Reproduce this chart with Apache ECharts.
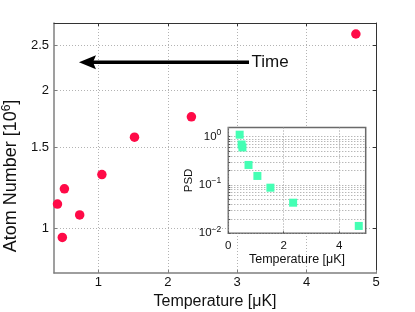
<!DOCTYPE html>
<html><head><meta charset="utf-8">
<script src="https://cdn.jsdelivr.net/npm/echarts@6/dist/echarts.min.js"></script>
<style>html,body{margin:0;padding:0;background:#fff}#c{width:415px;height:312px}</style>
</head><body><div id="c"></div>
<script>
// ---- data ----
const temperature = [0.41, 0.48, 0.51, 0.73, 1.05, 1.52, 2.34, 4.71];      // µK
const atomNumber  = [1.13, 0.956, 1.22, 1.07, 1.31, 1.58, 1.75, 2.65];     // 10^6
const psd         = [1.10, 0.69, 0.60, 0.26, 0.154, 0.088, 0.043, 0.0142];
const xTicks      = [1, 2, 3, 4, 5];
const yTicks      = [1, 1.5, 2, 2.5];
const yTickLabels = ['1', '1.5', '2', '2.5'];
const insetXTicks = [0, 2, 4];
const insetYExp   = [-2, -1, 0];
const arrowTail   = [3.17, 2.3];
const arrowTip    = [0.72, 2.3];
const arrowText   = 'Time';

const LN = Math.log, L10 = Math.log10;
const FONT = '"Liberation Sans", Arial, Helvetica, sans-serif';
const TXT = '#111';

// minor log grid values for the inset (1..9 per decade)
const insetGridVals = [];
for (let d = -2; d < 0; d++) for (let k = 1; k <= 9; k++) insetGridVals.push(L10(k) + d);
insetGridVals.push(0);

const chart = echarts.init(document.getElementById('c'), null, {renderer: 'canvas'});
const dotted = {color: '#b3b3b3', width: 1, type: [1, 2]};
const grayLine = {show: true, onZero: false, lineStyle: {color: '#7f7f7f', width: 1.5}};
const darkLine = {show: true, onZero: false, lineStyle: {color: '#333', width: 1}};

const option = {
  animation: false,
  backgroundColor: '#fff',
  textStyle: {fontFamily: FONT},
  grid: [
    {left: 54, top: 23, right: 39, bottom: 39, containLabel: false, outerBoundsMode: 'none'},
    {left: 228.3, top: 127.5, right: 49.3, bottom: 78.7, show: true, backgroundColor: '#fff',
     borderColor: '#6a6a6a', borderWidth: 1.5, z: 5, containLabel: false, outerBoundsMode: 'none'}
  ],
  xAxis: [
    {gridIndex: 0, type: 'value', min: 0.36, max: 5, position: 'bottom',
     axisLine: grayLine,
     axisTick: {inside: true, length: 3, customValues: xTicks, lineStyle: {color: '#7f7f7f'}},
     axisLabel: {customValues: xTicks, fontSize: 13, color: TXT, margin: 3, fontFamily: FONT},
     splitLine: {show: true, lineStyle: dotted},
     name: 'Temperature [μK]', nameLocation: 'middle', nameGap: 18,
     nameTextStyle: {fontSize: 16, color: TXT, fontFamily: FONT}},
    {gridIndex: 0, type: 'value', min: 0.36, max: 5, position: 'top',
     axisLine: darkLine,
     axisTick: {inside: true, length: 3, customValues: xTicks, lineStyle: {color: '#333'}},
     axisLabel: {show: false}, splitLine: {show: false}},
    {gridIndex: 1, type: 'value', min: 0, max: 4.96, position: 'bottom', z: 6,
     axisLine: {show: false, onZero: false},
     axisTick: {inside: true, length: 2, customValues: insetXTicks, lineStyle: {color: '#555'}},
     axisLabel: {customValues: insetXTicks, fontSize: 11.5, color: TXT, margin: 7, fontFamily: FONT},
     splitLine: {show: true, lineStyle: {color: '#9a9a9a', width: 1, type: [1, 2]}},
     name: 'Temperature [μK]', nameLocation: 'middle', nameGap: 17,
     nameTextStyle: {fontSize: 12.5, color: TXT, fontFamily: FONT}}
  ],
  yAxis: [
    {gridIndex: 0, type: 'value', min: LN(0.8), max: LN(2.8), position: 'left',
     axisLine: grayLine,
     axisTick: {inside: true, length: 3, customValues: yTicks.map(LN), lineStyle: {color: '#7f7f7f'}},
     axisLabel: {customValues: yTicks.map(LN), fontSize: 13, color: TXT, margin: 5, fontFamily: FONT,
       formatter: v => {
         let best = 0;
         yTicks.forEach((t, i) => { if (Math.abs(LN(t) - v) < Math.abs(LN(yTicks[best]) - v)) best = i; });
         return yTickLabels[best];
       }},
     splitLine: {show: true, lineStyle: dotted},
     name: 'Atom Number [10{sup|6}]', nameLocation: 'middle', nameGap: 26,
     nameTextStyle: {fontSize: 18, color: TXT, fontFamily: FONT, padding: [0, 56, 0, 0],
       rich: {sup: {fontSize: 12, color: TXT, fontFamily: FONT, padding: [0, 0, 9, 0]}}}},
    {gridIndex: 0, type: 'value', min: LN(0.8), max: LN(2.8), position: 'right',
     axisLine: darkLine,
     axisTick: {inside: true, length: 3, customValues: yTicks.map(LN), lineStyle: {color: '#333'}},
     axisLabel: {show: false}, splitLine: {show: false}},
    {gridIndex: 1, type: 'value', min: -2, max: L10(1.55), position: 'left', z: 6,
     axisLine: {show: false, onZero: false},
     axisTick: {inside: true, length: 2, customValues: insetGridVals, lineStyle: {color: '#555'}},
     axisLabel: {customValues: insetYExp, fontSize: 11.5, color: TXT, margin: 7, fontFamily: FONT,
       formatter: v => '10{sup|' + String(Math.round(v)).replace('-', '−') + '}',
       rich: {sup: {fontSize: 8.5, color: TXT, fontFamily: FONT, padding: [0, 0, 8, 0]}}},
     splitLine: {show: true, lineStyle: {color: '#9a9a9a', width: 1, type: [1, 2]}},
     name: 'PSD', nameLocation: 'middle', nameGap: 32,
     nameTextStyle: {fontSize: 11.5, color: TXT, fontFamily: FONT}}
  ],
  series: [
    {type: 'scatter', xAxisIndex: 0, yAxisIndex: 0, symbol: 'circle', symbolSize: 9.5, z: 3,
     itemStyle: {color: '#ff0a47', opacity: 1},
     data: temperature.map((t, i) => [t, LN(atomNumber[i])])},
    {type: 'scatter', xAxisIndex: 2, yAxisIndex: 2, symbol: 'rect', symbolSize: 8, z: 8,
     itemStyle: {color: '#44ffb4', opacity: 1},
     data: temperature.map((t, i) => [t, L10(psd[i])])}
  ]
};
chart.setOption(option);

// annotation arrow positioned through the main axes
const tail = chart.convertToPixel({gridIndex: 0}, [arrowTail[0], LN(arrowTail[1])]);
const tip = chart.convertToPixel({gridIndex: 0}, [arrowTip[0], LN(arrowTip[1])]);
chart.setOption({
  graphic: [
    {type: 'line', z: 10, shape: {x1: tail[0], y1: tail[1], x2: tip[0] + 13, y2: tip[1]},
     style: {stroke: '#000', lineWidth: 3.5}},
    {type: 'polygon', z: 10,
     shape: {points: [[tip[0], tip[1]], [tip[0] + 17, tip[1] - 7], [tip[0] + 14, tip[1]], [tip[0] + 17, tip[1] + 7]]},
     style: {fill: '#000'}},
    {type: 'text', z: 10, x: tail[0] + 2.5, y: tail[1] + 0.5,
     style: {text: arrowText, fill: TXT, font: '17px ' + FONT, verticalAlign: 'middle', align: 'left'}}
  ]
});
</script></body></html>
